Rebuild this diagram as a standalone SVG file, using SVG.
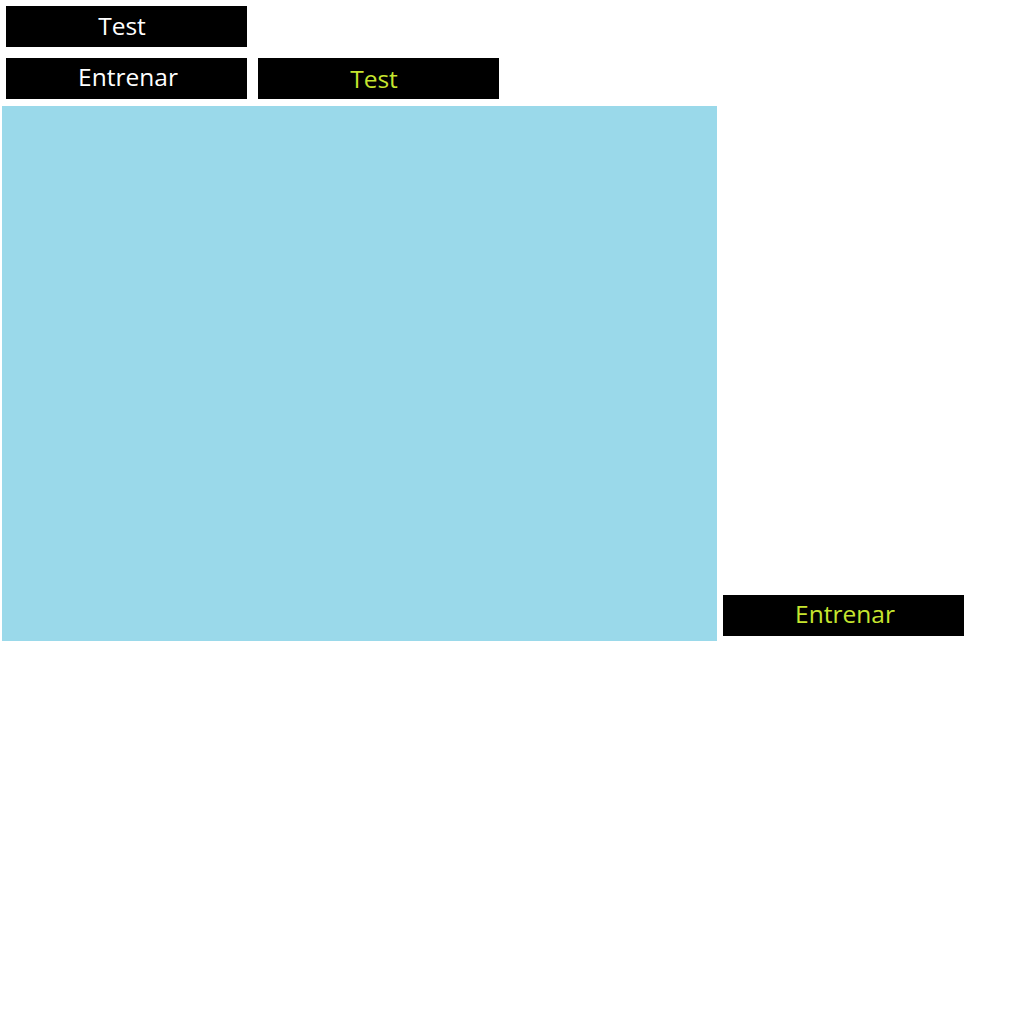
<svg xmlns="http://www.w3.org/2000/svg" width="1024" height="1024" viewBox="0 0 1024 1024">
<style>
.btn{fill:#000000}
.lbl{font-family:"Open Sans","Noto Sans","Liberation Sans",sans-serif;font-size:24.5px;text-anchor:middle}
.w{fill:#ffffff}
.y{fill:#c6e52f}
</style>
<rect width="1024" height="1024" fill="#ffffff"/>
<g id="panel"><rect x="2" y="106" width="715" height="535" fill="#9ad9ea"/></g>
<g id="btn-test-1"><rect class="btn" x="6" y="6" width="241" height="41"/><text class="lbl w" x="122" y="35">Test</text></g>
<g id="btn-entrenar-1"><rect class="btn" x="6" y="58" width="241" height="41"/><text class="lbl w" x="128" y="86">Entrenar</text></g>
<g id="btn-test-2"><rect class="btn" x="258" y="58" width="241" height="41"/><text class="lbl y" x="374" y="88">Test</text></g>
<g id="btn-entrenar-2"><rect class="btn" x="723" y="595" width="241" height="41"/><text class="lbl y" x="845" y="623">Entrenar</text></g>
<g id="connectors"></g>
</svg>
